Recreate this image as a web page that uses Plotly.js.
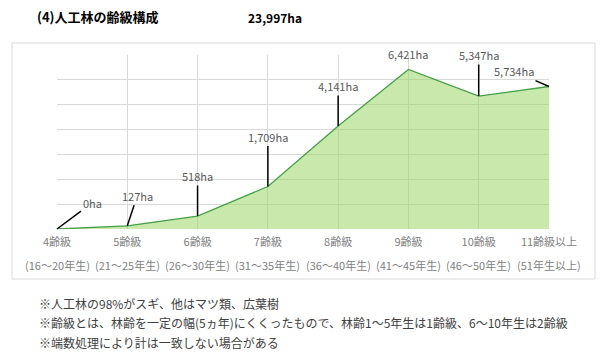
<!DOCTYPE html>
<html>
<head>
<meta charset="utf-8">
<script src="https://cdn.plot.ly/plotly-3.0.1.min.js"></script>
<style>html,body{margin:0;padding:0;background:#fff;}#chart{width:603px;height:355px;}</style>
</head>
<body>
<div id="chart"></div>
<script>
const categories = ["4齢級","5齢級","6齢級","7齢級","8齢級","9齢級","10齢級","11齢級以上"];
const subLabels = ["(16～20年生)","(21～25年生)","(26～30年生)","(31～35年生)","(36～40年生)","(41～45年生)","(46～50年生)","(51年生以上)"];
const areaHa = [0, 127, 518, 1709, 4141, 6421, 5347, 5734];
const dataLabels = ["0ha","127ha","518ha","1,709ha","4,141ha","6,421ha","5,347ha","5,734ha"];
const titleText = "(4)人工林の齢級構成";
const totalText = "23,997ha";
const notes = [
  "※人工林の98%がスギ、他はマツ類、広葉樹",
  "※齢級とは、林齢を一定の幅(5ヵ年)にくくったもので、林齢1～5年生は1齢級、6～10年生は2齢級",
  "※端数処理により計は一致しない場合がある"
];

const FONT = "'Noto Sans CJK JP', 'Noto Sans', sans-serif";

// label offsets (pixels) for leader lines
const labelOffsets = [[35,-26],[10,-30],[0,-40],[0,-50],[0,-40],[0,-15],[0,-41],[-35,-15]];
const labelArrows = [true,true,true,true,true,false,true,true];

const annotations = [];
categories.forEach((c,i)=>{
  const a = {
    x: c, y: areaHa[i], xref:'x', yref:'y',
    text: dataLabels[i],
    font:{family:FONT,size:11,color:'#595959'},
    showarrow: labelArrows[i]
  };
  if (labelArrows[i]) {
    Object.assign(a,{ax:labelOffsets[i][0], ay:labelOffsets[i][1], arrowhead:0, arrowwidth:1.5, arrowcolor:'#000', standoff:0, startstandoff:0});
  } else {
    a.yshift = -labelOffsets[i][1];
  }
  annotations.push(a);
  annotations.push({
    x: c, y: 0, xref:'x', yref:'paper', yanchor:'middle', yshift:-36,
    text: subLabels[i], showarrow:false,
    font:{family:FONT,size:11,color:'#7f7f7f'}
  });
});
annotations.push({
  xref:'paper', yref:'paper', x:0, y:1, xanchor:'left', yanchor:'middle',
  xshift:189, yshift:55-17, text:'<b>'+totalText+'</b>', showarrow:false,
  font:{family:FONT,size:12,color:'#000'}
});
notes.forEach((n,i)=>{
  annotations.push({
    xref:'paper', yref:'paper', x:0, y:0, xanchor:'left', yanchor:'middle',
    xshift:-20, yshift:-(74 + i*19.5), text:n, showarrow:false,
    font:{family:FONT,size:12,color:'#404040'}
  });
});

const trace = {
  x: categories, y: areaHa, type:'scatter', mode:'lines',
  fill:'tozeroy', fillcolor:'rgba(150,210,95,0.52)',
  line:{color:'#43a043', width:1.3}, hoverinfo:'skip'
};

const layout = {
  width:603, height:355,
  margin:{l:57,r:54,t:55,b:126},
  paper_bgcolor:'#fff', plot_bgcolor:'#fff',
  showlegend:false,
  title:{text:'<b>'+titleText+'</b>', x:37/603, xanchor:'left', y:1-17/355, yanchor:'middle', yref:'container', xref:'container',
    font:{family:FONT,size:13,color:'#000'}},
  xaxis:{type:'category', range:[0,7], showgrid:true, gridcolor:'#d9d9d9', gridwidth:1,
    zeroline:false, showline:false, ticks:'', ticklen:0, ticklabelstandoff:5,
    tickfont:{family:FONT,size:11,color:'#7f7f7f'}, fixedrange:true},
  yaxis:{range:[0,7000], dtick:1000, showgrid:true, gridcolor:'#d9d9d9', gridwidth:1,
    zeroline:false, showline:false, showticklabels:false, ticks:'', fixedrange:true},
  annotations: annotations,
  shapes:[{type:'rect', xref:'paper', yref:'paper', x0:(12-57)/492, x1:(595-57)/492,
    y0:(229-279)/174, y1:(229-43)/174, line:{color:'#d9d9d9', width:1}, layer:'below'}]
};

Plotly.newPlot('chart',[trace],layout,{displayModeBar:false, staticPlot:true});
</script>
</body>
</html>
